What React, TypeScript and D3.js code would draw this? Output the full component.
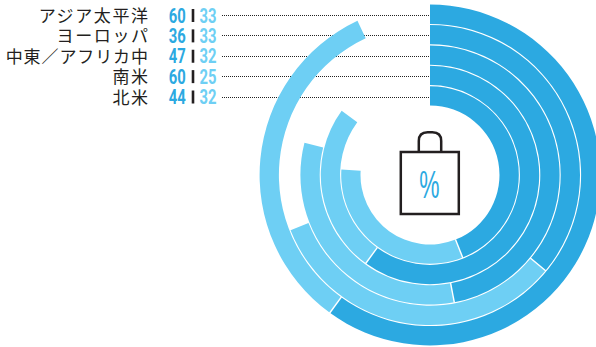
import React from "react";
import * as d3 from "d3";

const regions = ["アジア太平洋", "ヨーロッパ", "中東／アフリカ中", "南米", "北米"];
const primaryShare = [60, 36, 47, 60, 44];
const secondaryShare = [33, 33, 32, 25, 32];

const PRIMARY = "#2CA9E1";
const SECONDARY = "#6ECFF4";
const INK = "#231F20";
const DIGITS = "Roboto, 'Liberation Sans', sans-serif";
const JP = "'Noto Sans CJK JP', sans-serif";

const cx = 430;
const cy = 175;
const ringStep = 20.4;
const ringGap = 1.1;
const outerRadius = 170.4;

const angle = d3.scaleLinear().domain([0, 100]).range([0, 2 * Math.PI]);
const rowY = d3.scalePoint<string>().domain(regions).range([15.5, 97]);
const arc = d3.arc<{ inner: number; outer: number; from: number; to: number }>()
  .innerRadius((d) => d.inner)
  .outerRadius((d) => d.outer)
  .startAngle((d) => angle(d.from))
  .endAngle((d) => angle(d.to));

// Narrow numerals: wider text is squeezed horizontally around its anchor.
function Digits({ x, y, anchor, fill, value }: { x: number; y: number; anchor: "start" | "end"; fill: string; value: number }) {
  return (
    <text
      transform={`translate(${x},${y}) scale(0.76,1)`}
      textAnchor={anchor}
      fontFamily={DIGITS}
      fontWeight={700}
      fontSize={19.5}
      fill={fill}
    >
      {value}
    </text>
  );
}

export default function App() {
  return (
    <svg
      width={596}
      height={347}
      viewBox="0 0 596 347"
      style={{ position: "absolute", left: 0, top: 0, background: "#fff" }}
    >
      {regions.map((name, i) => {
        const y = rowY(name)!;
        const leaderY = Math.round(y - 0.5) + 0.5;
        const tracking = name.length > 6 ? 0.9 : 1.6;
        return (
          <g key={name}>
            <line
              x1={222}
              x2={430}
              y1={leaderY}
              y2={leaderY}
              stroke="#222"
              strokeWidth={1}
              strokeDasharray="1 1"
              shapeRendering="crispEdges"
            />
            <text
              x={148 + tracking}
              y={y + 6.6}
              textAnchor="end"
              fontFamily={JP}
              fontWeight={400}
              fontSize={17}
              letterSpacing={tracking}
              fill={INK}
            >
              {name}
            </text>
            <Digits x={185.8} y={y + 7} anchor="end" fill={PRIMARY} value={primaryShare[i]} />
            <rect x={191.7} y={y - 6.5} width={2.6} height={13} fill={INK} />
            <Digits x={199.5} y={y + 7} anchor="start" fill={SECONDARY} value={secondaryShare[i]} />
          </g>
        );
      })}

      <g transform={`translate(${cx},${cy})`}>
        {regions.map((name, i) => {
          const outer = outerRadius - i * ringStep;
          const inner = outer - ringStep + ringGap;
          const mid = primaryShare[i];
          const end = mid + secondaryShare[i];
          const [x1, y1] = d3.pointRadial(angle(mid), inner - 0.5);
          const [x2, y2] = d3.pointRadial(angle(mid), outer + 0.5);
          return (
            <g key={name}>
              <path d={arc({ inner, outer, from: mid, to: end })!} fill={SECONDARY} />
              <path d={arc({ inner, outer, from: 0, to: mid })!} fill={PRIMARY} />
              <line x1={x1} y1={y1} x2={x2} y2={y2} stroke="#fff" strokeWidth={1.4} />
            </g>
          );
        })}
      </g>

      {/* Shopping bag with a percent sign at the centre of the rings */}
      <g fill="none" stroke={INK} strokeWidth={2.5}>
        <rect x={400.8} y={152} width={58} height={62} />
        <path d="M418.8 152 V141 Q418.8 132.2 427.6 132.2 H432.4 Q441.2 132.2 441.2 141 V152" />
      </g>
      <text
        transform="translate(429.5,198) scale(0.6,1)"
        textAnchor="middle"
        fontFamily="'Liberation Sans', sans-serif"
        fontSize={38}
        fill={PRIMARY}
      >
        %
      </text>
    </svg>
  );
}
